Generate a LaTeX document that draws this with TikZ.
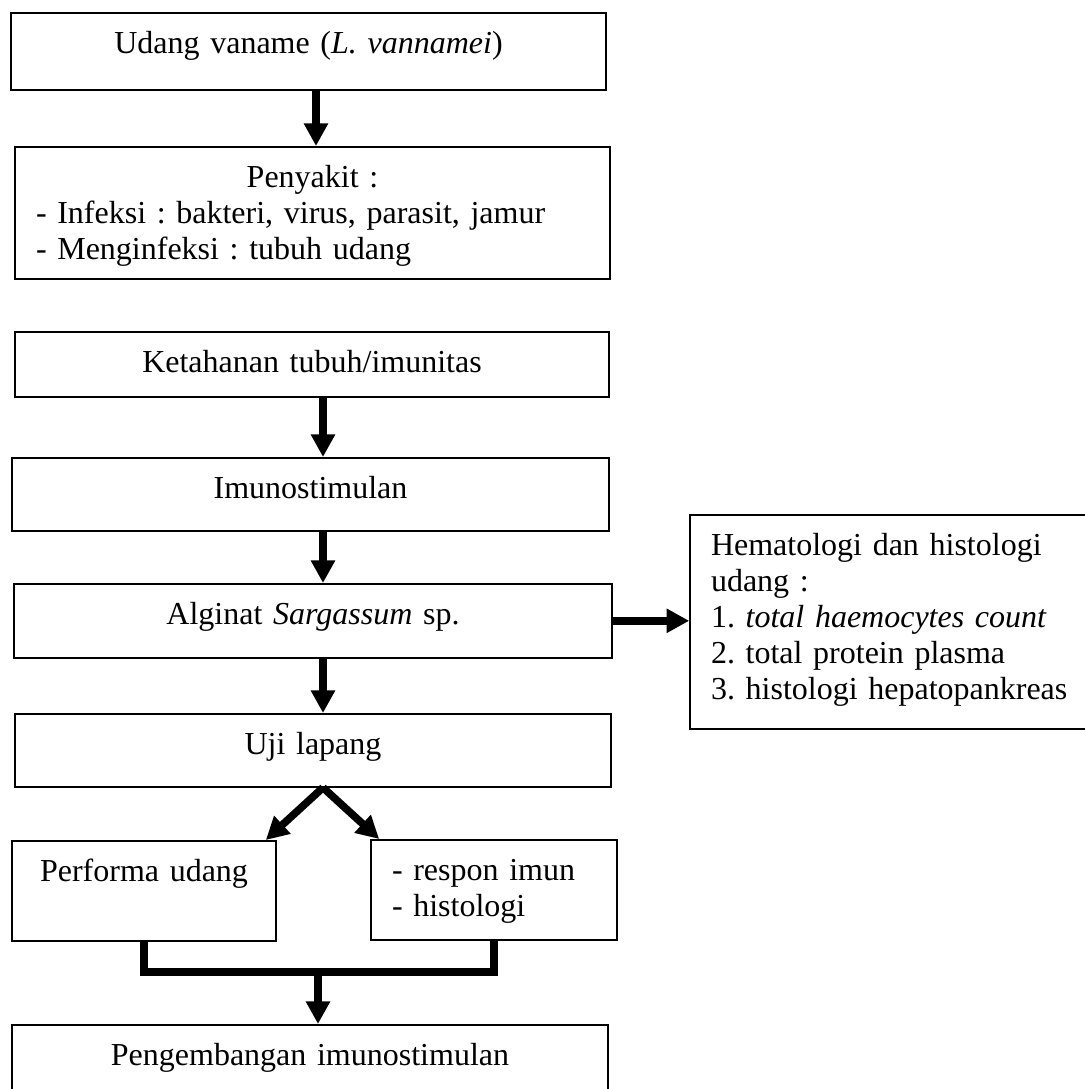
\documentclass[tikz,border=0pt]{standalone}
\usepackage{fontspec}
\setmainfont{Liberation Serif}
\usetikzlibrary{arrows.meta}

\begin{document}
\begin{tikzpicture}[x=0.5pt,y=-0.5pt]
\tikzset{kotak/.style={draw,line width=0.8pt,anchor=north,inner xsep=10.5pt,inner ysep=0pt,
           text height=20.5pt,align=center,font={\fontsize{16}{18}\selectfont\frenchspacing}},
         kiri/.style={align=left},
         panah/.style={line width=3.8pt,-{Triangle[width=11.5pt,length=11.3pt]}},
         garis/.style={line width=3.8pt}}
\useasboundingbox (0,0) rectangle (1084,1089);
% Boxes
\node[kotak,text width=276.5pt,text depth=18pt] (udang) at (308.5,12) {Udang vaname (\textit{L. vannamei})};
\node[kotak,kiri,text width=276.5pt,text depth=45.5pt] (penyakit) at (312.5,146)
  {{\centering Penyakit :\par}- Infeksi : bakteri, virus, parasit, jamur\\- Menginfeksi : tubuh udang};
\node[kotak,text width=276pt,text depth=12pt] (ketahanan) at (312,331) {Ketahanan tubuh/imunitas};
\node[kotak,text width=277.5pt,text depth=16pt] (imuno) at (310.5,457) {Imunostimulan};
\node[kotak,text width=278pt,text depth=16.5pt] (alginat) at (313,583) {Alginat \textit{Sargassum} sp.};
\node[kotak,kiri,text width=190pt,text depth=86.5pt] (hemato) at (901,514)
  {Hematologi dan histologi\\udang :\\1. \textit{total haemocytes count}\\2. total protein plasma\\3. histologi hepatopankreas};
\node[kotak,text width=277pt,text depth=16pt] (uji) at (313,713) {Uji lapang};
\node[kotak,text width=111pt,text depth=29.5pt] (performa) at (144,840) {Performa udang};
\node[kotak,kiri,text width=102pt,text depth=29.5pt] (respon) at (494,839) {- respon imun\\- histologi};
\node[kotak,text width=277pt,text depth=20pt] (kembang) at (310,1024) {Pengembangan imunostimulan};
% Arrow columns
\coordinate (kolA) at (316,0);
\coordinate (kolB) at (323,0);
\draw[panah] (udang.south -| kolA) -- (penyakit.north -| kolA);
\draw[panah] (ketahanan.south -| kolB) -- (imuno.north -| kolB);
\draw[panah] (imuno.south -| kolB) -- (alginat.north -| kolB);
\draw[panah] (alginat.south -| kolB) -- (uji.north -| kolB);
\draw[panah] (alginat.east) -- (alginat.east -| hemato.west);
% Split into two
\coordinate (cabang) at (uji.south -| kolB);
\draw[panah] (cabang) -- ([xshift=-5.5pt]performa.north east);
\draw[panah] (cabang) -- ([xshift=4.5pt]respon.north west);
% Join again
\coordinate (gabung) at (318,972);
\draw[garis] (performa.south) -- (performa.south |- gabung) -- (respon.south |- gabung) -- (respon.south);
\draw[panah] (gabung) -- (gabung |- kembang.north);
\end{tikzpicture}
\end{document}
